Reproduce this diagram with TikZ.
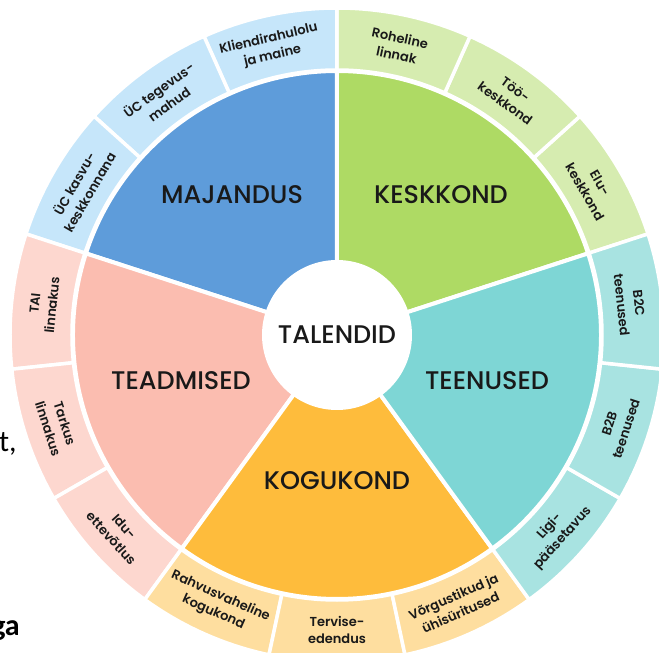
\documentclass[tikz,border=0pt]{standalone}
\usepackage{fontspec}
\setmainfont{Poppins}
\newfontfamily\medfont{Poppins Medium}
\newfontfamily\semifont{Poppins SemiBold}
\newfontfamily\bodyfont{Carlito}
\definecolor{maj}{HTML}{5E9CDA}
\definecolor{majl}{HTML}{C6E6FA}
\definecolor{kesk}{HTML}{AEDA64}
\definecolor{keskl}{HTML}{D6ECB0}
\definecolor{teen}{HTML}{7ED6D5}
\definecolor{teenl}{HTML}{A8E3E1}
\definecolor{kogu}{HTML}{FEBC3C}
\definecolor{kogul}{HTML}{FEDE9F}
\definecolor{tead}{HTML}{FBBDB0}
\definecolor{teadl}{HTML}{FDD7CF}
\tikzset{
	bigarea/.style={align=center, font=\medfont\fontsize{25.5}{30}\selectfont, text=black!90},
	ringlbl/.style={align=center, font=\semifont\fontsize{13}{17.5}\selectfont, text=black!90, inner sep=0pt},
}
\begin{document}
\begin{tikzpicture}[x=1pt, y=1pt]
				\useasboundingbox (-337,-318) rectangle (322,335);
				\clip (-337,-318) rectangle (322,335);
				
				%outer ring
				\foreach \a/\c in {18/keskl, 42/keskl, 66/keskl, 90/majl, 114/majl, 138/majl, 162/teadl, 186/teadl, 210/teadl, 234/kogul, 258/kogul, 282/kogul, 306/teenl, 330/teenl, 354/teenl}{
					\fill[\c, draw=white, line width=3.5] (\a:265) arc[start angle=\a, delta angle=24, radius=265] -- (\a+24:327) arc[start angle=\a+24, delta angle=-24, radius=327] -- cycle;
				}
				
				%inner sectors
				\foreach \a/\c in {18/kesk, 90/maj, 162/tead, 234/kogu, 306/teen}{
					\fill[\c, draw=white, line width=4] (0,0) -- (\a:264) arc[start angle=\a, delta angle=72, radius=264] -- cycle;
				}
				
				%centre
				\node[circle, fill=white, minimum size=150, inner sep=0pt, bigarea] (talendid) at (0,0) {TALENDID};
				
				\node[bigarea] (majandus) at (-105,140) {MAJANDUS};
				\node[bigarea] (keskkond) at (104,140) {KESKKOND};
				\node[bigarea] (teenused) at (150,-46) {TEENUSED};
				\node[bigarea] (kogukond) at (0,-146) {KOGUKOND};
				\node[bigarea] (teadmised) at (-156,-46) {TEADMISED};
				
				%ring labels
				\foreach \a/\r/\t [count=\i] in {30/-60/{Elu-\\keskkond}, 54/-36/{Töö-\\keskkond}, 78/-12/{Roheline\\linnak}, 103/13/{Kliendirahulolu\\ja maine}, 126/36/{ÜC tegevus-\\mahud}, 150/60/{ÜC kasvu-\\keskkonnana}, 174/84/{TAI\\linnakus}, 198/-72/{Tarkus\\linnakus}, 222/-48/{Idu-\\ettevõtlus}, 246/-24/{Rahvusvaheline\\kogukond}, 270/0/{Tervise-\\edendus}, 294/24/{Võrgustikud ja\\ühisüritused}, 318/48/{Ligi-\\pääsetavus}, 342/72/{B2B\\teenused}, 6/-84/{B2C\\teenused}}{
					\node[ringlbl, rotate=\r] (ring\i) at (\a:295) {\t};
				}
				
				%cut text at the left edge
				\node[font=\bodyfont\fontsize{30}{36}\selectfont, anchor=base west, inner sep=0pt] (frag1) at (-338,-117) {t,};
				\node[font=\bodyfont\bfseries\fontsize{30}{36}\selectfont, anchor=base east, inner sep=0pt] (frag2) at (-317,-300) {ga};
			\end{tikzpicture}
\end{document}
